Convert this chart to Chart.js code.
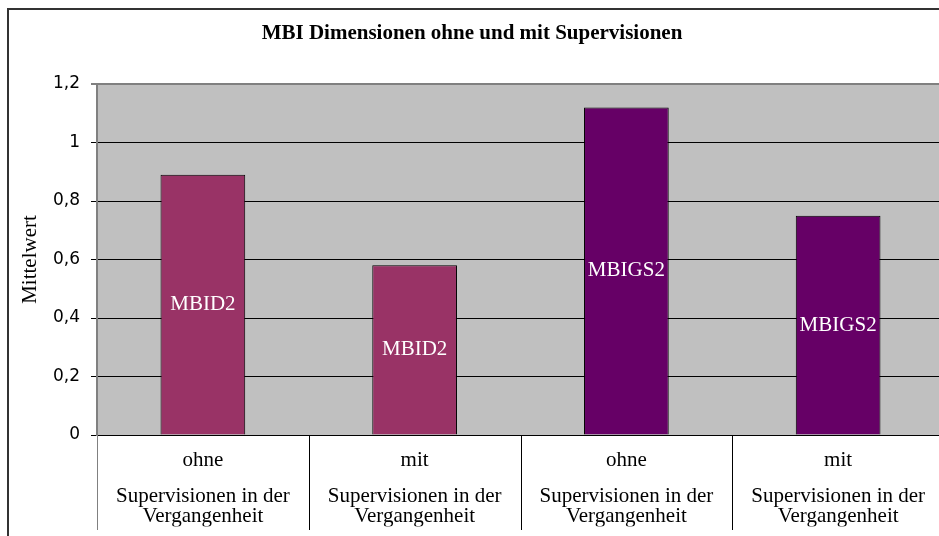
<!DOCTYPE html>
<html>
<head>
<meta charset="utf-8">
<script src="https://cdn.jsdelivr.net/npm/chart.js@4"></script>
<style>
    html, body { margin: 0; padding: 0; overflow: hidden; background: #fff; }
    #wrap { position: absolute; left: 0; top: 0; width: 956px; height: 536px; }
</style>
</head>
<body>
<div id="wrap"><canvas id="chart" width="956" height="536"></canvas></div>
<script>
// data
const categories = ['ohne', 'mit', 'ohne', 'mit'];
const groupLabels = [
    ['Supervisionen in der', 'Vergangenheit'],
    ['Supervisionen in der', 'Vergangenheit'],
    ['Supervisionen in der', 'Vergangenheit'],
    ['Supervisionen in der', 'Vergangenheit'],
];
const yValues = [0.89, 0.58, 1.12, 0.75];
const barNames = ['MBID2', 'MBID2', 'MBIGS2', 'MBIGS2'];
const barColors = ['#993366', '#993366', '#660066', '#660066'];
const yTickLabels = ['0', '0,2', '0,4', '0,6', '0,8', '1', '1,2'];

const serif = "'Liberation Serif', 'Times New Roman', serif";

// grey plot area and the outer frame
const backgroundPlugin = {
    id: 'background',
    beforeDraw(chart) {
        const ctx = chart.ctx;
        const a = chart.chartArea;
        ctx.save();
        ctx.fillStyle = '#c0c0c0';
        ctx.fillRect(a.left, a.top, a.right - a.left, a.bottom - a.top);
        ctx.strokeStyle = '#333333';
        ctx.lineWidth = 2;
        ctx.beginPath();
        ctx.moveTo(8, chart.height);
        ctx.lineTo(8, 9);
        ctx.lineTo(chart.width, 9);
        ctx.stroke();
        ctx.restore();
    },
};

// vertical separators between the categories, below the axis
const separatorPlugin = {
    id: 'separators',
    afterDraw(chart) {
        const ctx = chart.ctx;
        const xs = chart.scales.x;
        const half = (xs.getPixelForValue(1) - xs.getPixelForValue(0)) / 2;
        const top = chart.chartArea.bottom;
        ctx.save();
        ctx.lineWidth = 1;
        for (let i = 0; i <= categories.length; i++) {
            const px = Math.round(xs.getPixelForValue(i) - half) + 0.5;
            ctx.strokeStyle = i === 0 ? '#808080' : '#000000';
            ctx.beginPath();
            ctx.moveTo(px, top);
            ctx.lineTo(px, top + 95);
            ctx.stroke();
        }
        ctx.restore();
    },
};

// series names written in the middle of each bar
const barNamePlugin = {
    id: 'barNames',
    afterDatasetsDraw(chart) {
        const ctx = chart.ctx;
        const meta = chart.getDatasetMeta(0);
        ctx.save();
        ctx.font = '21px ' + serif;
        ctx.fillStyle = '#ffffff';
        ctx.textAlign = 'center';
        ctx.textBaseline = 'middle';
        meta.data.forEach((bar, i) => {
            ctx.fillText(barNames[i], bar.x, (bar.y + bar.base) / 2);
        });
        ctx.restore();
    },
};

new Chart(document.getElementById('chart'), {
    type: 'bar',
    data: {
        labels: categories,
        datasets: [{
            data: yValues,
            backgroundColor: barColors,
            borderColor: '#000000',
            borderWidth: 1,
            barPercentage: 0.4,
            categoryPercentage: 1.0,
        }],
    },
    options: {
        responsive: false,
        animation: false,
        devicePixelRatio: 1,
        layout: {
            padding: { left: 0, right: 12, top: 0, bottom: 9.5 },
        },
        plugins: {
            legend: { display: false },
            tooltip: { enabled: false },
            title: {
                display: true,
                text: 'MBI Dimensionen ohne und mit Supervisionen',
                color: '#000000',
                font: { family: serif, size: 21, weight: 'bold' },
                padding: { top: 21, bottom: 37.8 },
            },
        },
        scales: {
            x: {
                weight: 0,
                afterFit(scale) {
                    scale.height = 37.6;
                },
                grid: { display: false, drawTicks: false },
                border: { color: '#000000', width: 1 },
                ticks: {
                    color: '#000000',
                    padding: 12.4,
                    maxRotation: 0,
                    autoSkip: false,
                    font: { family: serif, size: 21 },
                },
            },
            x2: {
                type: 'category',
                axis: 'x',
                position: 'bottom',
                weight: 1,
                offset: true,
                labels: groupLabels,
                afterFit(scale) {
                    scale.height = 53.9;
                },
                grid: { display: false, drawTicks: false },
                border: { display: false },
                ticks: {
                    color: '#000000',
                    padding: 13.9,
                    maxRotation: 0,
                    autoSkip: false,
                    font: { family: serif, size: 21, lineHeight: '20px' },
                },
            },
            y: {
                min: 0,
                max: 1.2,
                afterFit(scale) {
                    scale.width = 97;
                },
                grid: {
                    tickLength: 6,
                    color: (c) => (c.tick && c.tick.value > 1.1 ? '#808080' : '#000000'),
                    lineWidth: (c) => (c.tick && c.tick.value > 1.1 ? 2 : 1),
                },
                border: { color: '#808080', width: 2 },
                ticks: {
                    stepSize: 0.2,
                    padding: 11,
                    color: '#000000',
                    font: { family: "'DejaVu Sans', sans-serif", size: 17 },
                    callback: (value, index) => yTickLabels[index],
                },
                title: {
                    display: true,
                    text: 'Mittelwert',
                    color: '#000000',
                    font: { family: serif, size: 21 },
                    padding: { top: 17.4, bottom: 0 },
                },
            },
        },
    },
    plugins: [backgroundPlugin, separatorPlugin, barNamePlugin],
});
</script>
</body>
</html>
